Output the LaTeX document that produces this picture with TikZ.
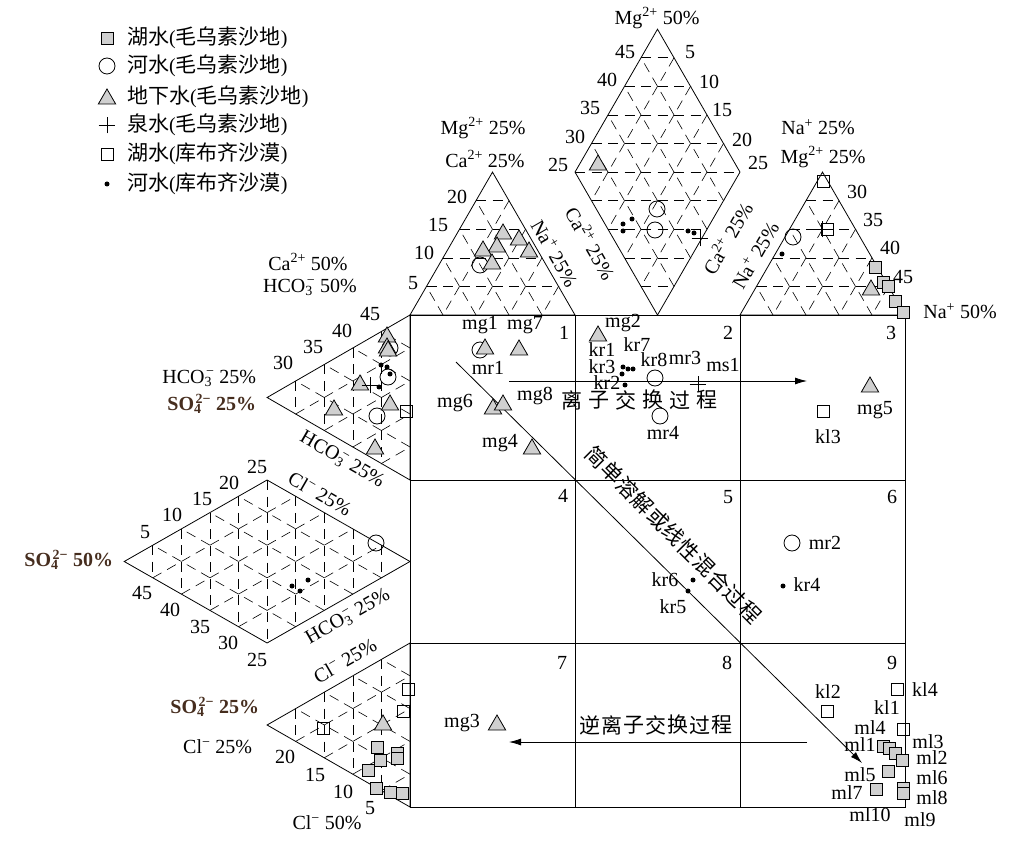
\documentclass[tikz,border=0pt]{standalone}
\usepackage{fontspec}
\setmainfont{Liberation Serif}
\newfontfamily\cjk[Scale=1.05]{Noto Sans CJK SC}
\usetikzlibrary{calc,arrows.meta,shapes.geometric,shapes.misc}
\definecolor{ptgray}{RGB}{208,208,208}
\definecolor{sobrown}{RGB}{70,45,30}
\newcommand\mgion{Mg\textsuperscript{2+}}
\newcommand\caion{Ca\textsuperscript{2+}}
\newcommand\naion{Na\textsuperscript{+}}
\newcommand\hcoion{HCO\rlap{\textsubscript{3}}\hspace{1.5pt}\textsuperscript{−}}
\newcommand\soion{SO\rlap{\textsubscript{4}}\hspace{1.5pt}\textsuperscript{2−}}
\newcommand\clion{Cl\textsuperscript{−}}
\newcommand\lgd[2]{{\cjk #1}({\cjk #2})}
\newcommand\trigrid[3]{%
  \foreach \k in {1,...,4}{%
    \draw[latt] ($(#1)!\k/5!(#3)$) -- ($(#2)!\k/5!(#3)$);
    \draw[latt] ($(#2)!\k/5!(#1)$) -- ($(#3)!\k/5!(#1)$);
    \draw[latt] ($(#3)!\k/5!(#2)$) -- ($(#1)!\k/5!(#2)$);
  }}

\begin{document}
\fontsize{20}{22}\selectfont
\begin{tikzpicture}[x=1pt,y=-1pt,
    latt/.style={dash pattern=on 10pt off 6.5pt,line width=0.6pt},
    bdr/.style={line width=0.8pt},
    gsq/.style={draw,fill=ptgray,rectangle,minimum size=12pt,inner sep=0pt,line width=0.8pt},
    osq/.style={draw,rectangle,minimum size=12pt,inner sep=0pt,line width=0.8pt},
    cir/.style={draw,circle,minimum size=16pt,inner sep=0pt,line width=0.8pt},
    gtri/.style={draw,fill=ptgray,regular polygon,regular polygon sides=3,minimum size=20pt,inner sep=0pt,line width=0.8pt,yshift=-2pt},
    kdot/.style={fill,circle,minimum size=5pt,inner sep=0pt},
    pls/.style={draw,cross out,rotate=45,minimum size=11pt,inner sep=0pt,line width=0.8pt},
    arr/.style={-{Latex[length=12pt,width=7pt]},line width=0.8pt},
    soion/.style={font=\bfseries,text=sobrown}]
\useasboundingbox (0,0) rectangle (1010,842);

\coordinate (a1) at (410,315); \coordinate (b1) at (575,315); \coordinate (c1) at (492.5,172.1);
\coordinate (p2) at (657.5,29.2); \coordinate (l2) at (575,172.1); \coordinate (r2) at (740,172.1); \coordinate (q2) at (657.5,315);
\coordinate (a3) at (740,315); \coordinate (b3) at (905,315); \coordinate (c3) at (822.5,172.1);
\coordinate (a4) at (410,315); \coordinate (b4) at (410,480); \coordinate (c4) at (267.1,397.5);
\coordinate (p5) at (267.1,480); \coordinate (l5) at (124.2,561.5); \coordinate (r5) at (410,561.5); \coordinate (q5) at (267.1,643);
\coordinate (a6) at (410,643); \coordinate (b6) at (410,807); \coordinate (c6) at (267.1,725);

\trigrid{a1}{b1}{c1}
\trigrid{l2}{r2}{p2}
\trigrid{l2}{r2}{q2}
\trigrid{a3}{b3}{c3}
\trigrid{a4}{b4}{c4}
\trigrid{p5}{q5}{l5}
\trigrid{p5}{q5}{r5}
\trigrid{a6}{b6}{c6}
\draw[latt] (l2) -- (r2);
\draw[latt] (p5) -- (q5);

\draw[bdr] (a1) -- (b1) -- (c1) -- cycle;
\draw[bdr] (p2) -- (l2) -- (q2) -- (r2) -- cycle;
\draw[bdr] (a3) -- (b3) -- (c3) -- cycle;
\draw[bdr] (a4) -- (b4) -- (c4) -- cycle;
\draw[bdr] (p5) -- (l5) -- (q5) -- (r5) -- cycle;
\draw[bdr] (a6) -- (b6) -- (c6) -- cycle;

\draw[bdr] (410,315) rectangle (905,807);
\draw[bdr] (575,315) -- (575,807);
\draw[bdr] (740,315) -- (740,807);
\draw[bdr] (410,480) -- (905,480);
\draw[bdr] (410,643) -- (905,643);

\coordinate (dstart) at (456,362); \coordinate (dend) at (862,763);
\coordinate (ixs) at (509,381); \coordinate (ixe) at (807,381);
\coordinate (rxs) at (807,742); \coordinate (rxe) at (509,742);
\draw[arr] (dstart) -- (dend);
\draw[arr] (ixs) -- (ixe);
\draw[arr] (rxs) -- (rxe);

\foreach \c [count=\i from 0] in {简,单,溶,解,或,线,性,混,合,过,程}
  \node[rotate=-45,inner sep=0pt] (dg\i) at ({597+15.3*\i},{457+15.5*\i}) {\cjk \c};
\foreach \c [count=\i from 0] in {离,子,交,换,过,程}
  \node[inner sep=0pt] (ix\i) at ({572+27*\i},400) {\cjk \c};
\foreach \c [count=\i from 0] in {逆,离,子,交,换,过,程}
  \node[inner sep=0pt] (rx\i) at ({590+22*\i},725) {\cjk \c};

\foreach \x/\y [count=\i] in {875/267,883/282,888/286,895/301,903/312,377/747,397/753,397/758,380/760,368/770,376/788,390/792,402/793,
    883/746,889/748,895/753,902/760,888/771,903/788,876/789,903/793}
  \node[gsq] (gs\i) at (\x,\y) {};
\foreach \x/\y [count=\i] in {823/181,827/229,406/411,323/728,408/689,403/711,823/411,897/689,827/711,903/729}
  \node[osq] (os\i) at (\x,\y) {};
\foreach \x/\y [count=\i] in {480/265,657/209,655/230,793/237,390/348,388/377,377/416,376/543,480/350,655/378,660/416,792/543}
  \node[cir] (ci\i) at (\x,\y) {};
\foreach \x/\y [count=\i] in {503/232,519/238,497/245,483/249,529/250,492/262,598/163,871/288,387/335,387/346,388/349,360/383,334/408,390/403,375/447,383/723,
    485/347,519/348,598/334,493/407,503/403,532/447,870/385,497/723}
  \node[gtri] (tr\i) at (\x,\y) {};
\foreach \x/\y [count=\i] in {623/224,632/219,623/231,688/231,694/233,782/254,381/365,387/367,390/374,379/387,292/586,300/591,308/580,
    623/367,628/369,633/369,622/374,625/385,693/580,688/591,783/586}
  \node[kdot] (dt\i) at (\x,\y) {};
\foreach \x/\y [count=\i] in {700/238,822/229,370/385,698/384}
  \node[pls] (pl\i) at (\x,\y) {};

\foreach \n/\x/\y in {mg1/480/325,mg7/525/325,mr1/488/368,mg2/623/323,kr1/602/350,kr7/637/345,kr3/602/367,kr8/654/360,mr3/685/358,ms1/723/365,kr2/607/383,
    mg6/455/403,mg8/535/396,mr4/663/433,mg4/500/443,mg5/875/410,kl3/828/437,mr2/825/543,kr6/665/580,kr5/673/607,kr4/807/585,mg3/462/723,
    kl2/828/692,kl4/925/690,kl1/887/708,ml4/870/728,ml1/860/745,ml3/928/742,ml2/932/758,ml5/860/775,ml6/932/778,ml7/847/793,ml8/932/798,ml10/870/815,ml9/920/820}
  \node[inner sep=0pt] (l\n) at (\x,\y) {\n};

\foreach \t/\x/\y [count=\i] in {1/564/333,2/728/333,3/891/333,4/563/496,5/728/497,6/892/497,7/562/663,8/727/663,9/892/663}
  \node[inner sep=0pt] (cell\i) at (\x,\y) {\t};

\foreach \t/\x/\y [count=\i] in {20/457/197,15/438/225,10/424/253,5/413/283,
    45/625/52,40/607/80,35/590/108,30/575/137,25/558/165,5/690/52,10/709/82,15/722/110,20/742/140,25/758/163,
    30/857/192,35/873/220,40/890/248,45/903/277,
    30/283/363,35/313/347,40/342/331,45/370/314,
    5/145/532,10/172/515,15/202/499,20/229/483,25/257/467,45/142/593,40/170/610,35/200/627,30/228/643,25/257/660,
    20/285/757,15/315/775,10/343/792,5/370/808}
  \node[inner sep=0pt] (num\i) at (\x,\y) {\t};

\node (mg50) at (657,18) {\mgion\ 50\%};
\node (mg25a) at (483,128) {\mgion\ 25\%};
\node (ca25a) at (485,159) {\caion\ 25\%};
\node[rotate=-60] (na25a) at (555,253) {\naion\ 25\%};
\node[rotate=-60] (ca25b) at (591,243) {\caion\ 25\%};
\node[rotate=60] (ca25c) at (727,238) {\caion\ 25\%};
\node (na25b) at (818,127) {\naion\ 25\%};
\node (mg25b) at (823,157) {\mgion\ 25\%};
\node[rotate=60] (na25c) at (755,255) {\naion\ 25\%};
\node (na50) at (960,311) {\naion\ 50\%};
\node (ca50) at (308,262) {\caion\ 50\%};
\node (hco50) at (310,287) {\hcoion\ 50\%};
\node[anchor=east] (hco25a) at (263,378) {\hcoion\ 25\%};
\node[anchor=east,soion] (so25a) at (263,404) {\soion\ 25\%};
\node[rotate=-30] (hco25b) at (342,460) {\hcoion\ 25\%};
\node[anchor=east,soion] (so50) at (120,560) {\soion\ 50\%};
\node[rotate=-30] (cl25a) at (320,494) {\clion\ 25\%};
\node[rotate=30] (hco25c) at (348,617) {\hcoion\ 25\%};
\node[rotate=30] (cl25b) at (345,661) {\clion\ 25\%};
\node[anchor=east,soion] (so25b) at (266,707) {\soion\ 25\%};
\node[anchor=east] (cl25c) at (259,747) {\clion\ 25\%};
\node (cl50) at (327,823) {\clion\ 50\%};

\node[gsq] (kgsq) at (107,38) {};
\node[cir] (kcir) at (107,66) {};
\node[gtri] (kgtri) at (107,97) {};
\node[pls] (kpls) at (107,125) {};
\node[osq] (kosq) at (107,154) {};
\node[kdot] (kdot) at (107,184) {};
\node[anchor=west,inner sep=0pt] (t1) at (127,38) {\lgd{湖水}{毛乌素沙地}};
\node[anchor=west,inner sep=0pt] (t2) at (127,66) {\lgd{河水}{毛乌素沙地}};
\node[anchor=west,inner sep=0pt] (t3) at (127,97) {\lgd{地下水}{毛乌素沙地}};
\node[anchor=west,inner sep=0pt] (t4) at (127,125) {\lgd{泉水}{毛乌素沙地}};
\node[anchor=west,inner sep=0pt] (t5) at (127,154) {\lgd{湖水}{库布齐沙漠}};
\node[anchor=west,inner sep=0pt] (t6) at (127,184) {\lgd{河水}{库布齐沙漠}};
\end{tikzpicture}
\end{document}
